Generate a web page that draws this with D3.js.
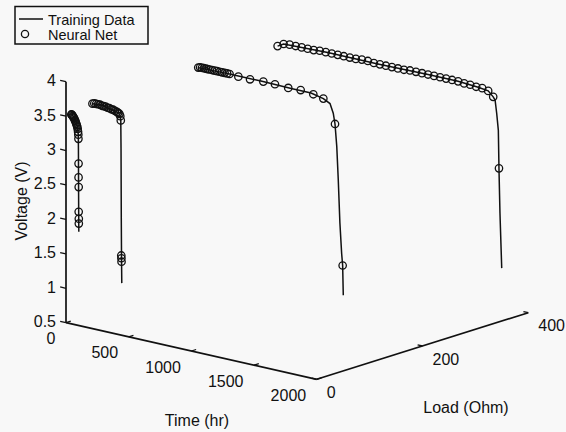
<!DOCTYPE html>
<meta charset="utf-8">
<head>
  <style>
    body {
      margin: 0;
      background: #f8f8f8;
    }
    svg {
      display: block;
    }
    .axis-line {
      stroke: #111;
      stroke-width: 1.7;
      fill: none;
    }
    .tick-mark {
      stroke: #111;
      stroke-width: 1.3;
    }
    .tick-lbl, .axis-lbl, .legend-lbl {
      font-family: "Liberation Sans", Arial, sans-serif;
      font-size: 16px;
      fill: #111;
    }
    .legend-lbl {
      font-size: 14.5px;
    }
    .train {
      stroke: #111;
      stroke-width: 1.5;
      fill: none;
    }
    .net {
      stroke: #111;
      stroke-width: 1.3;
      fill: none;
    }
  </style>
</head>
<body>

<svg id="chart" width="566" height="432"></svg>

<script src="https://d3js.org/d3.v7.min.js"></script>
<script>

  // loads of the four discharge runs (Ohm)
  var loads = [10, 50, 250, 400];

  // training data, time (hr) / voltage (V)
  var trainT1 = [0, 10, 20, 30, 40, 48, 53, 56, 57, 58, 59, 60];
  var trainV1 = [3.50, 3.49, 3.47, 3.44, 3.40, 3.35, 3.29, 3.22, 3.0, 2.5, 2.1, 1.82];
  var trainT2 = [0, 60, 120, 180, 210, 222, 226, 228, 230, 232, 234];
  var trainV2 = [3.56, 3.57, 3.55, 3.53, 3.51, 3.47, 3.41, 3.0, 2.0, 1.4, 1.05];
  var trainT3 = [0, 250, 500, 750, 900, 998, 1051, 1077, 1091, 1105, 1117, 1130, 1144, 1152, 1157];
  var trainV3 = [3.60, 3.61, 3.61, 3.60, 3.60, 3.56, 3.51, 3.38, 3.23, 2.91, 2.43, 1.81, 1.37, 1.20, 0.77];
  var trainT4 = [0, 48, 400, 800, 1200, 1440, 1600, 1680, 1720, 1735, 1748, 1761, 1766, 1774, 1788];
  var trainV4 = [3.55, 3.60, 3.62, 3.62, 3.63, 3.63, 3.61, 3.59, 3.52, 3.48, 3.29, 3.05, 2.50, 1.85, 1.06];

  // neural net outputs
  var netT1 = [0, 4, 8, 12, 16, 20, 24, 28, 32, 36, 40, 44, 48, 51, 54, 56, 57, 58, 58, 59, 59, 60, 60];
  var netV1 = [3.50, 3.50, 3.49, 3.48, 3.47, 3.46, 3.45, 3.43, 3.42, 3.40, 3.38, 3.36, 3.34, 3.31, 3.27, 3.23, 3.17, 2.81, 2.61, 2.47, 2.11, 2.01, 1.94];
  var netT2 = [0, 15, 30, 45, 60, 75, 90, 105, 120, 135, 150, 165, 180, 195, 205, 215, 222, 226, 230, 231, 232];
  var netV2 = [3.56, 3.57, 3.57, 3.57, 3.57, 3.56, 3.56, 3.56, 3.55, 3.55, 3.54, 3.54, 3.53, 3.52, 3.51, 3.50, 3.47, 3.41, 1.45, 1.41, 1.36];
  var netT3 = [0, 15, 30, 45, 60, 75, 90, 110, 130, 150, 170, 190, 210, 230, 250, 320, 413, 519, 612, 718, 817, 918, 998, 1091, 1152];
  var netV3 = [3.60, 3.61, 3.61, 3.61, 3.61, 3.61, 3.61, 3.61, 3.61, 3.61, 3.61, 3.61, 3.61, 3.61, 3.61, 3.60, 3.60, 3.61, 3.61, 3.60, 3.61, 3.59, 3.56, 3.23, 1.20];
  var netT4 = [0, 48, 96, 144, 192, 240, 288, 336, 384, 432, 480, 528, 576, 624, 672, 720, 768, 816, 864, 912,
               960, 1008, 1056, 1104, 1152, 1200, 1248, 1296, 1344, 1392, 1440, 1488, 1536, 1584, 1632, 1680, 1720, 1766];
  var netV4 = [3.55, 3.60, 3.61, 3.61, 3.61, 3.61, 3.61, 3.62, 3.62, 3.62, 3.62, 3.62, 3.62, 3.62, 3.63, 3.63, 3.62, 3.62, 3.62, 3.62,
               3.62, 3.62, 3.63, 3.63, 3.63, 3.63, 3.63, 3.63, 3.63, 3.63, 3.63, 3.62, 3.62, 3.61, 3.61, 3.59, 3.52, 2.50];

  var timeTicks = [0, 500, 1000, 1500, 2000];
  var loadTicks = [0, 200, 400];
  var voltTicks = [0.5, 1, 1.5, 2, 2.5, 3, 3.5, 4];
  var voltLabels = ["0.5", "1", "1.5", "2", "2.5", "3", "3.5", "4"];

  var trainT = [trainT1, trainT2, trainT3, trainT4];
  var trainV = [trainV1, trainV2, trainV3, trainV4];
  var netT = [netT1, netT2, netT3, netT4];
  var netV = [netV1, netV2, netV3, netV4];


  var svg = d3.select("#chart");

  // each axis maps its range onto 0..1, then onto its screen vector
  var tScale = d3.scaleLinear().domain([0, 2000]).range([0, 1]);
  var lScale = d3.scaleLinear().domain([0, 400]).range([0, 1]);
  var vScale = d3.scaleLinear().domain([0.5, 4]).range([0, 1]);

  var origin = [66, 322.7];
  var tVec = [250.7, 56.6];
  var lVec = [211.6, -66.6];
  var vVec = [0, -241];

  function proj(t, l, v) {
    var a = tScale(t), b = lScale(l), c = vScale(v);
    return [origin[0] + a*tVec[0] + b*lVec[0] + c*vVec[0],
            origin[1] + a*tVec[1] + b*lVec[1] + c*vVec[1]];
  }

  function unit(v) {
    var n = Math.hypot(v[0], v[1]);
    return [v[0]/n, v[1]/n];
  }
  var tDir = unit(tVec), lDir = unit(lVec);


  // axes
  var ax = svg.append("g");
  function seg(p, q, cls) {
    ax.append("line").attr("class", cls)
      .attr("x1", p[0]).attr("y1", p[1]).attr("x2", q[0]).attr("y2", q[1]);
  }
  seg(proj(0, 0, 0.5), proj(2000, 0, 0.5), "axis-line");
  seg(proj(2000, 0, 0.5), proj(2000, 400, 0.5), "axis-line");
  seg(proj(0, 0, 0.5), proj(0, 0, 4), "axis-line");

  var tk = 5;
  timeTicks.forEach(function (t) {
    var p = proj(t, 0, 0.5);
    seg(p, [p[0] + lDir[0]*tk, p[1] + lDir[1]*tk], "tick-mark");
    ax.append("text").attr("class", "tick-lbl")
      .attr("x", p[0] - 10.5).attr("y", p[1] + 16)
      .attr("text-anchor", "end").attr("dominant-baseline", "central")
      .text(t);
  });
  loadTicks.forEach(function (l) {
    var p = proj(2000, l, 0.5);
    seg(p, [p[0] - tDir[0]*tk, p[1] - tDir[1]*tk], "tick-mark");
    ax.append("text").attr("class", "tick-lbl")
      .attr("x", p[0] + 10).attr("y", p[1] + 13)
      .attr("text-anchor", "start").attr("dominant-baseline", "central")
      .text(l);
  });
  voltTicks.forEach(function (v, i) {
    var p = proj(0, 0, v);
    seg(p, [p[0] - tDir[0]*6, p[1] - tDir[1]*6], "tick-mark");
    ax.append("text").attr("class", "tick-lbl")
      .attr("x", p[0] - 10).attr("y", p[1] - 1)
      .attr("text-anchor", "end").attr("dominant-baseline", "central")
      .text(voltLabels[i]);
  });

  ax.append("text").attr("class", "axis-lbl")
    .attr("transform", "translate(21,201) rotate(-90)")
    .attr("text-anchor", "middle").attr("dominant-baseline", "central")
    .text("Voltage (V)");
  ax.append("text").attr("class", "axis-lbl")
    .attr("x", 197).attr("y", 420.5)
    .attr("text-anchor", "middle").attr("dominant-baseline", "central")
    .text("Time (hr)");
  ax.append("text").attr("class", "axis-lbl")
    .attr("x", 466).attr("y", 407.5)
    .attr("text-anchor", "middle").attr("dominant-baseline", "central")
    .text("Load (Ohm)");


  // data
  var plot = svg.append("g");
  loads.forEach(function (l, k) {
    var pts = trainT[k].map(function (t, i) { return proj(t, l, trainV[k][i]); });
    plot.append("path").attr("class", "train")
      .attr("d", d3.line()(pts));
  });
  loads.forEach(function (l, k) {
    var pts = netT[k].map(function (t, i) { return proj(t, l, netV[k][i]); });
    plot.selectAll(null).data(pts).enter()
      .append("circle").attr("class", "net")
      .attr("cx", function (d) { return d[0]; })
      .attr("cy", function (d) { return d[1]; })
      .attr("r", 3.7);
  });


  // legend (entries packed tight like the original)
  var lg = svg.append("g");
  lg.append("rect").attr("x", 15).attr("y", 6.5).attr("width", 133).attr("height", 37.5)
    .attr("fill", "none").attr("stroke", "#111").attr("stroke-width", 1.5);
  lg.append("line").attr("class", "train")
    .attr("x1", 19).attr("y1", 19).attr("x2", 43).attr("y2", 19);
  lg.append("circle").attr("class", "net").attr("cx", 25).attr("cy", 34).attr("r", 3.6);
  lg.append("text").attr("class", "legend-lbl").attr("x", 48).attr("y", 24.5).text("Training Data");
  lg.append("text").attr("class", "legend-lbl").attr("x", 48).attr("y", 40).text("Neural Net");

</script>
</body>
